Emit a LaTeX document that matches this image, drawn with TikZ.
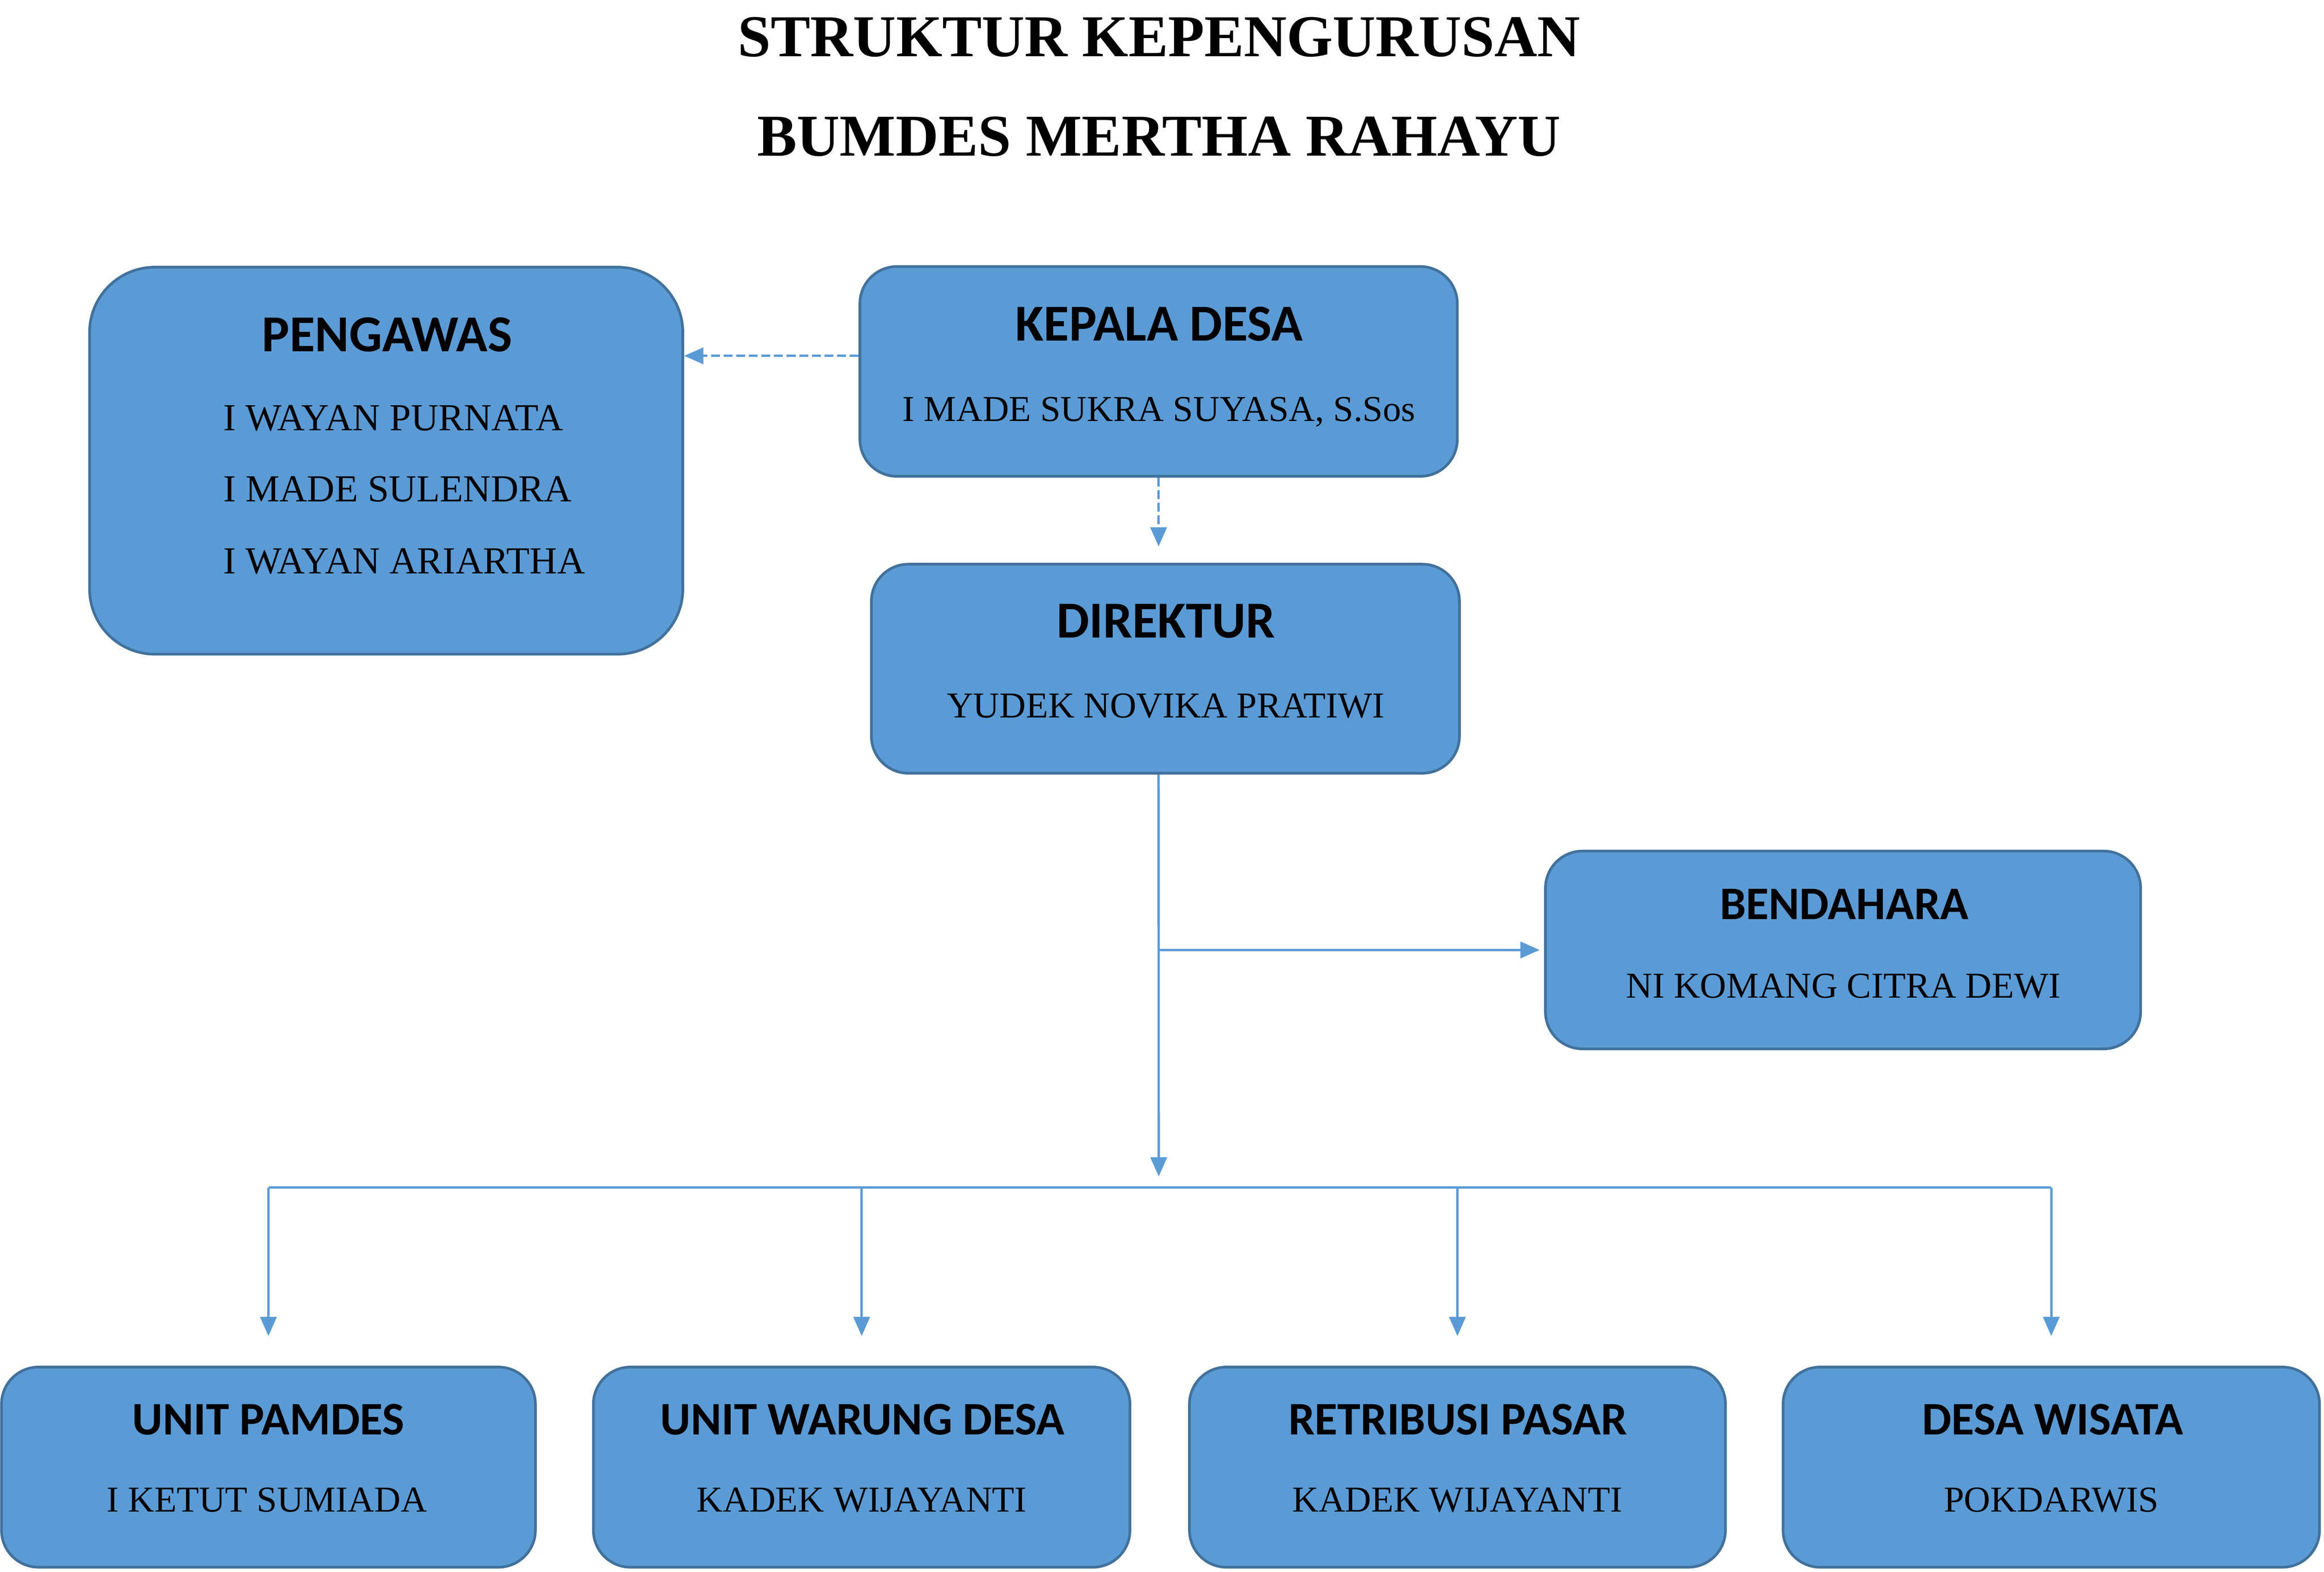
\documentclass[tikz,border=0pt]{standalone}
\usepackage{fontspec}
\setmainfont{Liberation Serif}
\newfontfamily\headfont{Carlito}
\usetikzlibrary{arrows.meta,positioning}
\definecolor{boxfill}{HTML}{5B9BD5}
\definecolor{boxline}{HTML}{41719C}
\definecolor{linkcol}{HTML}{5B9BD5}

\begin{document}
\begin{tikzpicture}[x=1pt,y=-1pt,
		orgbox/.style={draw=boxline, line width=1.8pt, fill=boxfill, rounded corners=25pt, inner sep=0pt},
		head/.style={anchor=base, inner sep=0pt, font=\headfont\bfseries\fontsize{35}{40}\selectfont},
		subhead/.style={head, font=\headfont\bfseries\fontsize{31.5}{36}\selectfont},
		person/.style={anchor=base, inner sep=0pt, font=\fontsize{24.6}{28}\selectfont},
		member/.style={anchor=base west, inner sep=0pt, font=\fontsize{25.8}{30}\selectfont},
		link/.style={draw=linkcol, line width=1.6pt, -{Triangle[length=13pt,width=11pt]}},
		dashlink/.style={link, dash pattern=on 6pt off 2.5pt}]
			\useasboundingbox (0,0) rectangle (1567,1060);
			\node[anchor=base, font=\bfseries\fontsize{40}{48}\selectfont] (title1) at (781.5,38) {STRUKTUR KEPENGURUSAN};
			\node[anchor=base, font=\bfseries\fontsize{40}{48}\selectfont] (title2) at (781.5,105) {BUMDES MERTHA RAHAYU};
			%%%%%%%%%%%%%%%%%%%%%%%%%%%%%%%%
			\node[orgbox, rounded corners=44pt, minimum width=400pt, minimum height=261pt] (pengawas) at (260.4,310.7) {};
			\node[head] (pengawasH) at (261,237) {PENGAWAS};
			\node[member] (pengawas1) at (150.3,290.5) {I WAYAN PURNATA};
			\node[member] (pengawas2) at (150.3,338.4) {I MADE SULENDRA};
			\node[member] (pengawas3) at (150.3,387) {I WAYAN ARIARTHA};
			%%%%%%%%%%%%%%%%%%%%%%%%%%%%%%%%
			\node[orgbox, minimum width=402.8pt, minimum height=141.5pt] (kepala) at (781.2,250.5) {};
			\node[head] (kepalaH) at (781.5,230) {KEPALA DESA};
			\node[person] (kepalaN) at (781.5,284) {I MADE SUKRA SUYASA, S.Sos};
			\node[orgbox, minimum width=396.5pt, minimum height=141pt] (direktur) at (785.8,451) {};
			\node[head] (direkturH) at (786,430) {DIREKTUR};
			\node[person] (direkturN) at (786,484) {YUDEK NOVIKA PRATIWI};
			\node[orgbox, minimum width=401.3pt, minimum height=133.4pt] (bendahara) at (1242.7,640.7) {};
			\node[subhead] (bendaharaH) at (1243.5,620) {BENDAHARA};
			\node[person] (bendaharaN) at (1243,673) {NI KOMANG CITRA DEWI};
			%%%%%%%%%%%%%%%%%%%%%%%%%%%%%%%%
			\node[orgbox, minimum width=360pt, minimum height=135pt] (pamdes) at (181,989.5) {};
			\node[subhead] (pamdesH) at (181,967.5) {UNIT PAMDES};
			\node[person] (pamdesN) at (180,1019.6) {I KETUT SUMIADA};
			\node[orgbox, minimum width=361.8pt, minimum height=135pt] (warung) at (581,989.5) {};
			\node[subhead] (warungH) at (581.5,967.5) {UNIT WARUNG DESA};
			\node[person] (warungN) at (581,1019.6) {KADEK WIJAYANTI};
			\node[orgbox, minimum width=361.4pt, minimum height=135pt] (pasar) at (982.7,989.5) {};
			\node[subhead] (pasarH) at (983,967.5) {RETRIBUSI PASAR};
			\node[person] (pasarN) at (982.7,1019.6) {KADEK WIJAYANTI};
			\node[orgbox, minimum width=361.7pt, minimum height=135pt] (wisata) at (1383.1,989.5) {};
			\node[subhead] (wisataH) at (1384,967.5) {DESA WISATA};
			\node[person] (wisataN) at (1383.1,1019.6) {POKDARWIS};
			%%%%%%%%%%%%%%%%%%%%%%%%%%%%%%%%
			\coordinate (toPeng) at ([yshift=10.5pt]kepala.west);
			\draw[dashlink] (toPeng) -- (toPeng -| pengawas.east);
			\coordinate (dirTop) at ([yshift=11pt]direktur.north);
			\draw[dashlink] (kepala.south) -- (kepala.south |- dirTop);
			\coordinate (stem) at (kepala.south |- direktur.south);
			\coordinate (bar) at (781.3,801);
			\draw[link, shorten >=7.5pt] (stem) -- (bar);
			\draw[link, shorten >=3pt] (stem |- bendahara.west) -- (bendahara.west);
			\draw[draw=linkcol, line width=1.6pt] (pamdes.north |- bar) -- (wisata.north |- bar);
			\foreach \u in {pamdes,warung,pasar,wisata}
				\draw[link, shorten >=20pt] (\u.north |- bar) -- (\u.north);
		\end{tikzpicture}
\end{document}
